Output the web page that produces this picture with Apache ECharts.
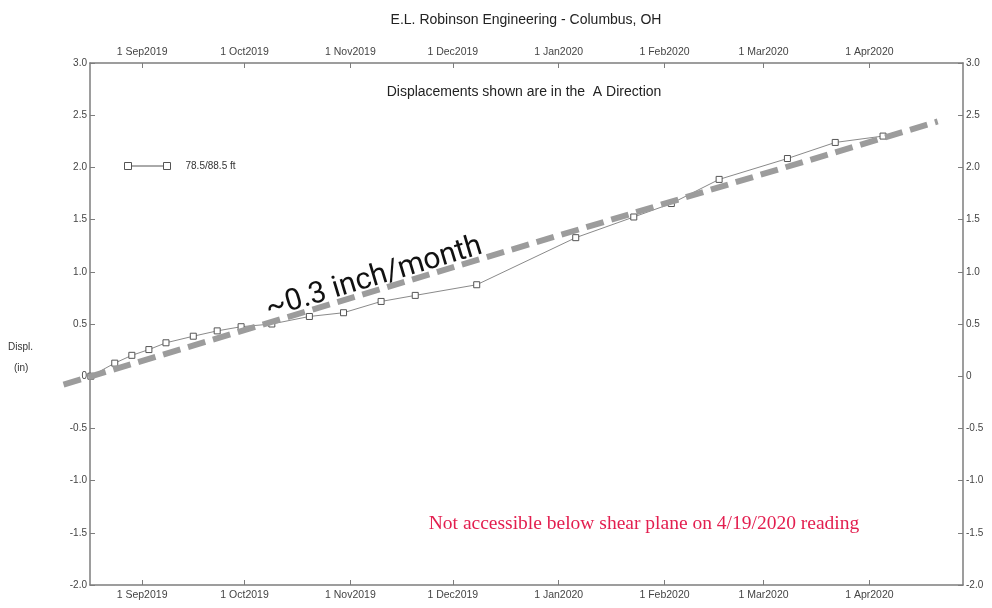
<!DOCTYPE html>
<html>
<head>
<meta charset="utf-8">
<script src="https://cdn.jsdelivr.net/npm/echarts@6/dist/echarts.min.js"></script>
<style>
  html, body { margin: 0; padding: 0; background: #fff; }
  #chart { width: 992px; height: 608px; }
</style>
</head>
<body>
<div id="chart"></div>
<script>
// Inclinometer reading dates and cumulative displacement (inches), A direction
const readingDates = [
  '2019-08-17', '2019-08-24', '2019-08-29', '2019-09-03', '2019-09-08',
  '2019-09-16', '2019-09-23', '2019-09-30', '2019-10-09', '2019-10-20',
  '2019-10-30', '2019-11-10', '2019-11-20', '2019-12-08', '2020-01-06',
  '2020-01-23', '2020-02-03', '2020-02-17', '2020-03-08', '2020-03-22',
  '2020-04-05'
];
const displacement = [
  0.00, 0.125, 0.20, 0.255, 0.32,
  0.383, 0.434, 0.474, 0.50, 0.572,
  0.608, 0.716, 0.774, 0.876, 1.327,
  1.525, 1.654, 1.885, 2.085, 2.239,
  2.30
];

// Approximate trend (~0.3 inch/month)
const trendDates = ['2019-08-09', '2020-04-21'];
const trendValues = [-0.08, 2.44];

// Month tick marks along the date axes
const tickDates = ['2019-09-01', '2019-10-01', '2019-11-01', '2019-12-01',
                   '2020-01-01', '2020-02-01', '2020-03-01', '2020-04-01'];
const tickLabels = ['1 Sep2019', '1 Oct2019', '1 Nov2019', '1 Dec2019',
                    '1 Jan2020', '1 Feb2020', '1 Mar2020', '1 Apr2020'];

const seriesName = '78.5/88.5 ft';

function toMs(s) {
  const p = s.split('-').map(Number);
  return Date.UTC(p[0], p[1] - 1, p[2]);
}

// Plot frame and value ranges
const W = 992, H = 608;
const G = { left: 90, right: 29, top: 63, bottom: 23 };
const xMin = Date.UTC(2019, 7, 16, 18);
const xMax = Date.UTC(2020, 3, 28, 10);
const yMin = -2, yMax = 3;
const tickMs = tickDates.map(toMs);

// A full-canvas overlay grid on the same scale, so the trend line can run past the frame
const msPerPx = (xMax - xMin) / (W - G.left - G.right);
const valPerPx = (yMax - yMin) / (H - G.top - G.bottom);
const ovXMin = xMin - G.left * msPerPx;
const ovXMax = xMax + G.right * msPerPx;
const ovYMin = yMin - G.bottom * valPerPx;
const ovYMax = yMax + G.top * valPerPx;

const axisColor = '#7d7d7d';
const labelColor = '#444';
const baseFont = 'Liberation Sans, Arial, sans-serif';

function xAxisDef(position) {
  return {
    type: 'value',
    gridIndex: 0,
    position: position,
    min: xMin,
    max: xMax,
    axisLine: { show: true, onZero: false, lineStyle: { color: axisColor, width: 1.5 } },
    axisTick: { show: true, inside: true, length: 5, customValues: tickMs,
                lineStyle: { color: axisColor, width: 1 } },
    axisLabel: {
      show: true,
      customValues: tickMs,
      margin: 5,
      color: labelColor,
      fontSize: 10.5,
      fontFamily: baseFont,
      formatter: function (v) {
        const i = tickMs.indexOf(v);
        return i >= 0 ? tickLabels[i] : '';
      }
    },
    splitLine: { show: false }
  };
}

function yAxisDef(position) {
  return {
    type: 'value',
    gridIndex: 0,
    position: position,
    min: yMin,
    max: yMax,
    interval: 0.5,
    axisLine: { show: true, onZero: false, lineStyle: { color: axisColor, width: 1.5 } },
    axisTick: { show: true, inside: true, length: 5, lineStyle: { color: axisColor, width: 1 } },
    axisLabel: {
      margin: 3,
      color: labelColor,
      fontSize: 10,
      fontFamily: baseFont,
      padding: [0, 0, 5, 0],
      formatter: function (v) { return v === 0 ? '0' : v.toFixed(1); }
    },
    splitLine: { show: false }
  };
}

const chart = echarts.init(document.getElementById('chart'), null, { renderer: 'canvas' });

chart.setOption({
  backgroundColor: '#ffffff',
  animation: false,
  title: [
    {
      text: 'E.L. Robinson Engineering - Columbus, OH',
      left: 521, top: 8, textAlign: 'center',
      textStyle: { fontSize: 14, fontWeight: 'normal', color: '#222', fontFamily: baseFont }
    },
    {
      text: 'Displacements shown are in the  A Direction',
      left: 519, top: 80, textAlign: 'center',
      textStyle: { fontSize: 14, fontWeight: 'normal', color: '#222', fontFamily: baseFont }
    }
  ],
  legend: {
    left: 119, top: 156,
    orient: 'vertical',
    data: [seriesName],
    itemWidth: 46, itemHeight: 7,
    icon: 'path://M0,0 H7 V7 H0 Z M7,3.5 H39 M39,0 H46 V7 H39 Z',
    itemStyle: { color: '#fff', borderColor: '#555', borderWidth: 1 },
    textStyle: { fontSize: 10, color: '#333', fontFamily: baseFont, padding: [0, 0, 0, 10] },
    selectedMode: false
  },
  grid: [
    { left: G.left, right: G.right, top: G.top, bottom: G.bottom, containLabel: false },
    { left: 0, right: 0, top: 0, bottom: 0, containLabel: false }
  ],
  xAxis: [
    xAxisDef('bottom'),
    xAxisDef('top'),
    { type: 'value', gridIndex: 1, min: ovXMin, max: ovXMax, show: false }
  ],
  yAxis: [
    yAxisDef('left'),
    yAxisDef('right'),
    { type: 'value', gridIndex: 1, min: ovYMin, max: ovYMax, show: false }
  ],
  graphic: [
    { type: 'text', left: 8, top: 342,
      style: { text: 'Displ.', fill: '#333', font: '10px ' + baseFont } },
    { type: 'text', left: 14, top: 363,
      style: { text: '(in)', fill: '#333', font: '10px ' + baseFont } },
    { type: 'text', x: 374, y: 278, rotation: 16.7 * Math.PI / 180,
      style: { text: '~0.3 inch/month', font: '30px Roboto, sans-serif', fill: '#111',
               align: 'center', verticalAlign: 'middle' } },
    { type: 'text', x: 644, y: 524,
      style: { text: 'Not accessible below shear plane on 4/19/2020 reading',
               font: '19.5px "Liberation Serif", "Times New Roman", serif', fill: '#e31e4f',
               align: 'center', verticalAlign: 'middle' } }
  ],
  series: [
    {
      name: seriesName,
      type: 'line',
      xAxisIndex: 0, yAxisIndex: 0,
      data: readingDates.map(function (d, i) { return [toMs(d), displacement[i]]; }),
      symbol: 'rect',
      symbolSize: 6,
      showAllSymbol: true,
      lineStyle: { color: '#8a8a8a', width: 1 },
      itemStyle: { color: '#fff', borderColor: '#555', borderWidth: 1 },
      z: 3
    },
    {
      name: 'trend',
      type: 'line',
      xAxisIndex: 2, yAxisIndex: 2,
      data: trendDates.map(function (d, i) { return [toMs(d), trendValues[i]]; }),
      symbol: 'none',
      silent: true,
      lineStyle: { color: '#9c9c9c', width: 6, type: [18, 8], cap: 'butt' },
      z: 4
    }
  ]
});
</script>
</body>
</html>
